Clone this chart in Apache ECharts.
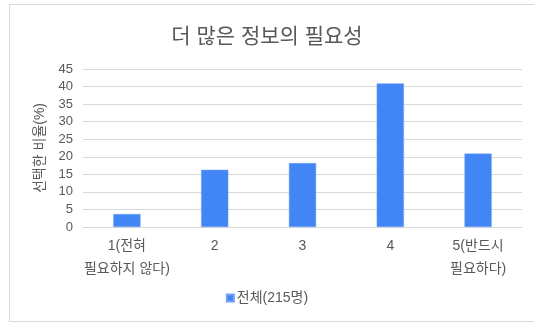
<!DOCTYPE html>
<html>
<head>
<meta charset="utf-8">
<script src="https://cdn.jsdelivr.net/npm/echarts@6/dist/echarts.min.js"></script>
<style>
html,body{margin:0;padding:0;background:#fff;}
#c{width:534px;height:324px;}
</style>
</head>
<body>
<div id="c"></div>
<script>
const categories = ['1(전혀\n필요하지 않다)', '2', '3', '4', '5(반드시\n필요하다)'];
const values = [3.7, 16.3, 18.2, 40.9, 20.9];
const seriesName = '전체(215명)';
const titleText = '더 많은 정보의 필요성';
const yAxisName = '선택한 비율(%)';

const FONT = 'Arial, "Liberation Sans", "Noto Sans CJK KR", sans-serif';
const chart = echarts.init(document.getElementById('c'));
chart.setOption({
  animation: false,
  textStyle: { fontFamily: FONT },
  title: {
    text: titleText,
    left: 'center',
    top: 22,
    textStyle: { fontSize: 21, fontWeight: 'normal', color: '#595959', fontFamily: FONT }
  },
  graphic: [{
    type: 'rect',
    shape: { x: 9.5, y: 4.5, width: 540, height: 317 },
    style: { fill: 'none', stroke: '#d9d9d9', lineWidth: 1 },
    silent: true
  }],
  legend: {
    data: [seriesName],
    bottom: 14,
    left: 'center',
    icon: 'rect',
    itemWidth: 7,
    itemHeight: 7,
    itemGap: 4,
    textStyle: { fontSize: 14, color: '#595959', fontFamily: FONT, padding: [0, 0, 0, -2] }
  },
  grid: { left: 83, right: 12, top: 69, bottom: 97, containLabel: false },
  xAxis: {
    type: 'category',
    data: categories,
    axisLine: { lineStyle: { color: '#d9d9d9' } },
    axisTick: { show: false },
    axisLabel: {
      interval: 0,
      fontSize: 14,
      color: '#595959',
      lineHeight: 23,
      margin: 8,
      fontFamily: FONT
    }
  },
  yAxis: {
    type: 'value',
    min: 0,
    max: 45,
    interval: 5,
    name: yAxisName,
    nameLocation: 'middle',
    nameGap: 33,
    nameTextStyle: { fontSize: 14, color: '#595959', fontFamily: FONT },
    axisLine: { show: false },
    axisTick: { show: false },
    axisLabel: { fontSize: 13, color: '#595959', margin: 10, fontFamily: FONT },
    splitLine: { lineStyle: { color: '#d9d9d9', width: 1 } }
  },
  series: [{
    name: seriesName,
    type: 'bar',
    data: values,
    barWidth: '31%',
    itemStyle: { color: '#4285F4', borderColor: '#6fa3f7', borderWidth: 0.5 }
  }]
});
</script>
</body>
</html>
